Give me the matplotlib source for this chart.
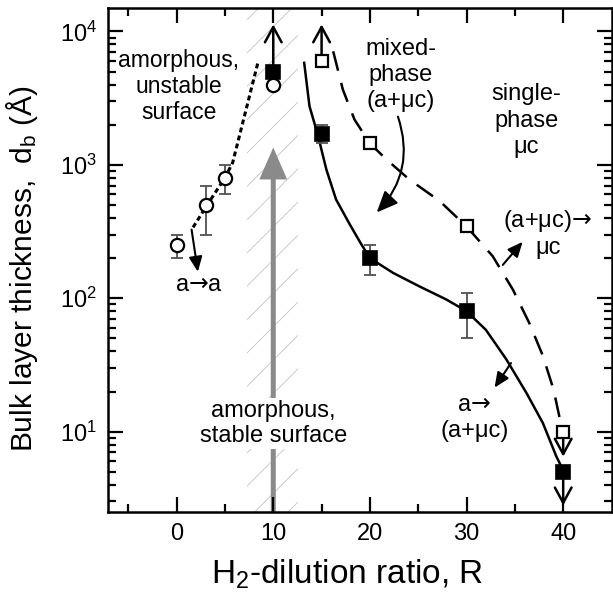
import matplotlib
matplotlib.use("Agg")
import matplotlib.pyplot as plt
import numpy as np

plt.rcParams['font.family'] = ['Liberation Sans', 'DejaVu Sans']
plt.rcParams['mathtext.fontset'] = 'custom'
plt.rcParams['mathtext.rm'] = 'Liberation Sans'
plt.rcParams['mathtext.it'] = 'Liberation Sans:italic'
plt.rcParams['mathtext.sf'] = 'DejaVu Sans'
plt.rcParams['mathtext.default'] = 'regular'
plt.rcParams['hatch.linewidth'] = 0.6

# ---- data ----
R_amorph = [0, 3, 5, 10]
d_amorph = [250, 500, 800, 4000]
R_amorph_err = [0, 3, 5]
d_amorph_err = [250, 500, 800]
d_amorph_lo = [200, 300, 600]
d_amorph_hi = [300, 700, 1000]

R_a_mix = [10, 15, 20, 30, 40]
d_a_mix = [5000, 1700, 200, 80, 5]
R_a_mix_err = [15, 20, 30]
d_a_mix_err = [1700, 200, 80]
d_a_mix_lo = [1450, 150, 50]
d_a_mix_hi = [2000, 250, 110]

R_mix_mc = [15, 20, 30, 40]
d_mix_mc = [6000, 1450, 350, 10]

# guide-to-the-eye lines
R_dot = [1.7, 3.0, 4.0, 5.0, 5.8, 8.4]
d_dot = [340, 480, 620, 800, 1040, 5800]

R_solid = [13.2, 13.75, 14.6, 15.5, 16.5, 17.9, 19.0, 20.0, 22.4, 25.1, 27.9,
           30.0, 32.0, 34.1, 36.2, 37.9, 39.3, 39.8]
d_solid = [5820, 2750, 1690, 920, 550, 360, 262, 200, 155, 123, 98,
           80, 58, 35, 19.5, 11.6, 6.5, 5.5]

R_dash = [16.2, 17.2, 18.4, 20.0, 21.7, 24.1, 27.2, 30.0, 32.7, 34.8,
          36.5, 37.9, 39.0, 39.6, 39.8]
d_dash = [7100, 3670, 2190, 1450, 1100, 775, 537, 345, 207, 116,
          65, 37, 20.7, 13, 11.2]

# ---- figure ----
fig = plt.figure(figsize=(6.13, 5.99), dpi=100)
ax = fig.add_axes([108/613, 1-512/599, 504/613, 504/599])
ax.set_yscale('log')
ax.set_xlim(-7.1, 45.05)
ax.set_ylim(2.5, 1.5e4)

# hatched band
ax.axvspan(7.3, 12.6, facecolor='none', edgecolor='#c4c4c4', hatch='/', lw=0, zorder=0)

# big gray arrow
ax.annotate('', xy=(10, 1350), xytext=(10, 2.5),
            arrowprops=dict(arrowstyle='simple,head_length=1.15,head_width=1.0,tail_width=0.18',
                            mutation_scale=20, color='#8a8a8a', lw=0,
                            shrinkA=0, shrinkB=0), zorder=1)

# guide lines
ax.plot(R_dot, d_dot, color='k', lw=2.2, ls=(0, (1.6, 1.1)), zorder=2)
ax.plot(R_solid, d_solid, color='k', lw=1.8, ls='-', zorder=2)
ax.plot(R_dash, d_dash, color='k', lw=1.8, ls=(0, (8, 5)), zorder=2)

# error bars
ecol = '#505050'
ax.errorbar(R_amorph_err, d_amorph_err,
            yerr=[np.array(d_amorph_err) - np.array(d_amorph_lo),
                  np.array(d_amorph_hi) - np.array(d_amorph_err)],
            fmt='none', ecolor=ecol, elinewidth=1.3, capsize=4.2, capthick=1.3, zorder=3)
ax.errorbar(R_a_mix_err, d_a_mix_err,
            yerr=[np.array(d_a_mix_err) - np.array(d_a_mix_lo),
                  np.array(d_a_mix_hi) - np.array(d_a_mix_err)],
            fmt='none', ecolor=ecol, elinewidth=1.3, capsize=4.2, capthick=1.3, zorder=3)

# limit arrows (open heads)
arr = dict(arrowstyle='->,head_length=0.55,head_width=0.3', lw=1.8, color='k',
           mutation_scale=20, shrinkA=0, shrinkB=0)
ax.annotate('', xy=(10, 11300), xytext=(10, 5000), arrowprops=arr, zorder=4)
ax.annotate('', xy=(15, 11300), xytext=(15, 6000), arrowprops=arr, zorder=4)
ax.annotate('', xy=(40, 6.5), xytext=(40, 10), arrowprops=arr, zorder=4)
ax.annotate('', xy=(40, 2.8), xytext=(40, 5), arrowprops=arr, zorder=4)

# markers
ax.plot(R_amorph, d_amorph, 'o', ms=9.5, mfc='white', mec='k', mew=1.6, ls='none', zorder=6)
ax.plot(R_a_mix, d_a_mix, 's', ms=9.5, mfc='k', mec='k', mew=1.2, ls='none', zorder=5)
ax.plot(R_mix_mc, d_mix_mc, 's', ms=9, mfc='white', mec='k', mew=1.6, ls='none', zorder=5)

# annotations
ARW = '$\\mathsf{\u2192}$'
fs = 17
ax.text(0.2, 3870, 'amorphous,\nunstable\nsurface', ha='center', va='center',
        fontsize=16.5, linespacing=1.15, zorder=7)
ax.text(2.3, 126, 'a' + ARW + 'a', ha='center', va='center', fontsize=fs, zorder=7)
ax.text(23.2, 4700, 'mixed-\nphase\n(a+\u03bcc)', ha='center', va='center',
        fontsize=fs, linespacing=1.25, zorder=7)
ax.text(36.2, 2150, 'single-\nphase\n\u03bcc', ha='center', va='center',
        fontsize=fs, linespacing=1.25, zorder=7)
ax.text(38.4, 305, '(a+\u03bcc)' + ARW + '\n\u03bcc', ha='center', va='center',
        fontsize=fs, linespacing=1.2, zorder=7)
ax.text(30.8, 12.7, 'a' + ARW + '\n(a+\u03bcc)', ha='center', va='center',
        fontsize=fs, linespacing=1.2, zorder=7)
ax.text(10, 11.5, 'amorphous,\nstable surface', ha='center', va='center',
        fontsize=fs, linespacing=1.15, zorder=7,
        bbox=dict(facecolor='white', edgecolor='none', pad=1.5))

farr = dict(arrowstyle='-|>,head_length=0.45,head_width=0.2', lw=1.5, color='k',
            mutation_scale=20, shrinkA=0, shrinkB=0)
ax.annotate('', xy=(2.2, 158), xytext=(1.55, 327), arrowprops=farr, zorder=7)
ax.annotate('', xy=(35.8, 265), xytext=(33.75, 178), arrowprops=farr, zorder=7)
ax.annotate('', xy=(32.9, 21.4), xytext=(34.6, 32.7), arrowprops=farr, zorder=7)
carr = dict(arrowstyle='-|>,head_length=0.65,head_width=0.28', lw=1.5, color='k',
            mutation_scale=20, shrinkA=0, shrinkB=0, connectionstyle='arc3,rad=-0.3')
ax.annotate('', xy=(20.7, 440), xytext=(22.9, 2300), arrowprops=carr, zorder=7)

# axes styling
ax.set_xticks([0, 10, 20, 30, 40])
ax.set_xticks([-5, 5, 15, 25, 35], minor=True)
ax.tick_params(which='both', direction='in', top=True, right=True, labelsize=17,
               width=1.6, pad=8)
ax.tick_params(which='major', length=11)
ax.tick_params(which='minor', length=6)
for s in ax.spines.values():
    s.set_linewidth(1.8)

ax.set_xlabel('H$_2$-dilution ratio, R', fontsize=24)
ax.xaxis.set_label_coords(0.474, -0.09)
ax.set_ylabel('Bulk layer thickness,  d$_b$ (\u00c5)', fontsize=21.5)
ax.yaxis.set_label_coords(-0.135, 0.482)

fig.savefig('out.png', dpi=100)
